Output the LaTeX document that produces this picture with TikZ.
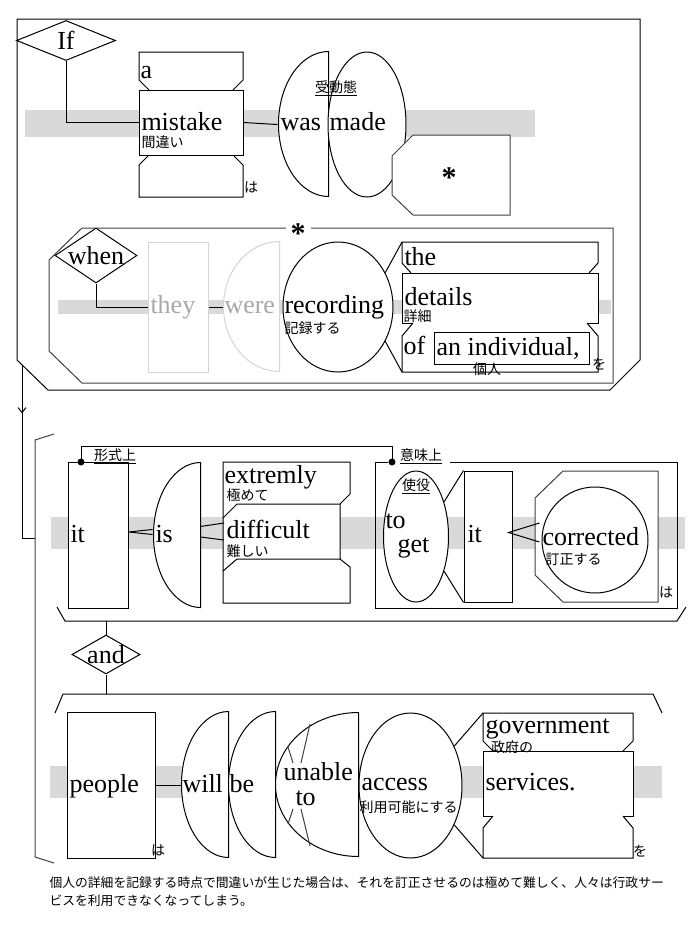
\documentclass[tikz,border=0pt]{standalone}
\usepackage{fontspec}
\setmainfont{Liberation Serif}
\newfontfamily\jpfont{Noto Sans CJK JP}
\usetikzlibrary{shapes.geometric,arrows.meta,calc,decorations.markings}
\definecolor{bandgray}{HTML}{D9D9D9}
\definecolor{ghostline}{HTML}{D4D4D4}
\definecolor{ghosttext}{HTML}{A8A8A8}
\definecolor{framegray}{HTML}{404040}

\begin{document}
\begin{tikzpicture}[x=1pt,y=-1pt,line width=1pt,>={Straight Barb[length=5pt,width=8pt]}]
  \tikzstyle{wd}=[inner sep=0,anchor=base west,font=\fontsize{26}{28}\selectfont]
  \tikzstyle{jp}=[inner sep=0,font=\jpfont\fontsize{14}{16}\selectfont]
  \tikzstyle{bx}=[draw,fill=white,inner sep=0]
  \tikzstyle{ov}=[draw,fill=white,ellipse,inner sep=0]
  \tikzstyle{hb}=[inner sep=0]
  \tikzstyle{dia}=[draw,fill=white,diamond,inner sep=0]
  \tikzstyle{dotmark}=[circle,fill,inner sep=0,minimum size=7pt]
  \tikzstyle{starmark}=[anchor=base,font=\fontsize{30}{30}\selectfont\bfseries]
  \useasboundingbox (0,0) rectangle (688,930);

  % frames and bands
  \draw (17,19) -- (640,19) -- (640,360) -- (610,390) -- (48,390) -- (17,360) -- cycle;
  \draw[framegray] (82,228) -- (613,228) -- (613,383) -- (82,383) -- (49,351) -- (49,260) -- cycle;
  \fill[bandgray] (25,110) rectangle (535,137);
  \fill[bandgray] (58,300) rectangle (611,314);
  \fill[bandgray] (51,517) rectangle (685,549);
  \fill[bandgray] (50,766) rectangle (662,798);

  % if clause
  \node[dia,minimum width=99pt,minimum height=40pt] (if) at (66,40.5) {};
  \node[wd,anchor=center] (if-t) at (if) {If};
  \draw[fill=white] (149,90) -- (139,80) -- (139,52) -- (243,52) -- (243,80) -- (233,90);
  \draw[fill=white] (149,155) -- (139,165) -- (139,197) -- (243,197) -- (243,165) -- (233,155);
  \node[bx,minimum width=104pt,minimum height=65pt] (mistake) at (191,122.5) {};
  \draw (if.south) |- (mistake.west);
  \node[wd] (a-t) at (140,78) {a};
  \node[wd] (mistake-t) at (141,130) {mistake};
  \node[jp,anchor=west] (mistake-j) at (141,142) {間違い};
  \node[jp] (ha1) at (251,187) {は};
  \node[hb,minimum width=50pt,minimum height=145pt] (was) at (303,124.5) {};
  \draw[fill=white] (was.north east) arc[start angle=90,end angle=270,x radius=50pt,y radius=72.5pt] -- cycle;
  \draw (mistake.east) -- (was.west);
  \node[wd] (was-t) at (280,130) {was};
  \node[ov,minimum width=78pt,minimum height=145pt] (made) at (367,124.5) {};
  \node[wd] (made-t) at (329,130) {made};
  \node[jp] (made-j) at (336,88) {\underline{受動態}};
  \draw[framegray,fill=white] (413,135) -- (510,135) -- (510,215) -- (413,215) -- (392,195) -- (392,156) -- cycle;
  \node[starmark] (star1) at (449,187) {*};

  % when clause
  \node[starmark,fill=white,inner xsep=5pt,inner ysep=0] (star2) at (298,243) {*};
  \node[dia,minimum width=82pt,minimum height=55pt] (when) at (96,255.5) {};
  \node[wd,anchor=center] (when-t) at (when) {when};
  \node[bx,draw=ghostline,minimum width=60pt,minimum height=130pt] (they) at (178,307) {};
  \draw (when.south) |- (they.west);
  \node[wd,text=ghosttext] (they-t) at (150,313) {they};
  \node[hb,minimum width=56pt,minimum height=130pt] (were) at (251,307) {};
  \draw[ghostline,fill=white] (were.north east) arc[start angle=90,end angle=270,x radius=56pt,y radius=65pt] -- cycle;
  \draw (they.east) -- (were.west);
  \node[wd,text=ghosttext] (were-t) at (224,313) {were};
  \node[ov,minimum width=110pt,minimum height=130pt] (recording) at (338,307) {};
  \node[wd] (recording-t) at (284,313) {recording};
  \node[jp,anchor=west] (recording-j) at (284,328) {記録する};
  \draw[fill=white] (411,273) -- (402,263) -- (402,242) -- (598,242) -- (598,263) -- (589,273);
  \node[bx,minimum width=196pt,minimum height=50pt] (details) at (500,298) {};
  \draw[fill=white] (413,323) -- (402,336) -- (402,372) -- (598,372) -- (598,336) -- (587,323);
  \node[bx,minimum width=155pt,minimum height=32pt] (indiv) at (511.5,348) {};
  \coordinate (the-nw) at (402,242);
  \coordinate (of-sw) at (402,372);
  \draw (recording.36) -- (the-nw) (recording.-36) -- (of-sw);
  \node[wd] (the-t) at (404,265) {the};
  \node[wd] (details-t) at (404,305) {details};
  \node[jp,anchor=west] (details-j) at (403,316) {詳細};
  \node[wd] (of-t) at (403,354) {of};
  \node[wd] (indiv-t) at (436,355) {an individual,};
  \node[jp] (indiv-j) at (487,369) {個人};
  \node[jp] (wo1) at (599,364) {を};

  % main clause
  \coordinate (ifc) at (22,365);
  \coordinate (mainc) at (35,538);
  \draw[postaction={decorate},decoration={markings,mark=at position 0.26 with {\arrow{>}}}] (ifc) |- (mainc);
  \draw[framegray] (54,434) -- (35,440) -- (35,857) -- (54,863);
  \draw (57,607) -- (65,621) -- (677,621) -- (686,607);
  \node[bx,minimum width=60pt,minimum height=146pt] (it1) at (98,535) {};
  \node[wd] (it1-t) at (70,542) {it};
  \node[dotmark] (d1) at (81,462) {};
  \node[dotmark] (d2) at (392,462) {};
  \draw (d1.center) -- ++(0,-16) -| (d2.center);
  \node[jp] (form) at (115,456) {\underline{形式上}};
  \node[jp] (sense) at (421,456) {\underline{意味上}};
  \node[hb,minimum width=47pt,minimum height=145pt] (is) at (176.5,535.5) {};
  \draw[fill=white] (is.north east) arc[start angle=90,end angle=270,x radius=47pt,y radius=72.5pt] -- cycle;
  \draw ($(it1.east)+(0,-3)$) -- ($(is.west)+(0,-6)$) ($(it1.east)+(0,-3)$) -- ($(is.west)+(0,-1)$);
  \node[wd] (is-t) at (155,542) {is};
  \draw[fill=white] (223,462) -- (350,462) -- (350,494) -- (340,504) -- (340,559) -- (350,567) -- (350,603) -- (223,603) -- cycle;
  \draw (223,518) -- (237,504) -- (340,504) (223,571) -- (237,559) -- (340,559);
  \coordinate (dw1) at (224,523);
  \coordinate (dw2) at (224,540);
  \draw ($(is.east)+(0,-9)$) -- (dw1) ($(is.east)+(0,1.5)$) -- (dw2);
  \node[wd] (extremly-t) at (224,483) {extremly};
  \node[jp,anchor=west] (extremly-j) at (226,495) {極めて};
  \node[wd] (difficult-t) at (226,538) {difficult};
  \node[jp,anchor=west] (difficult-j) at (226,551) {難しい};
  \draw (450,462) -- (677,462) -- (677,608) -- (375,608) -- (375,462) -- (d2);
  \node[ov,minimum width=65pt,minimum height=131pt] (toget) at (416,536.5) {};
  \node[jp] (toget-j) at (416,486) {\underline{使役}};
  \node[wd] (to-t) at (385,528) {to};
  \node[wd] (get-t) at (397,552) {get};
  \node[bx,minimum width=48pt,minimum height=131pt] (it2) at (488,536.5) {};
  \draw (toget.51) -- (it2.north west) (toget.-51) -- (it2.south west);
  \node[wd] (it2-t) at (467,542) {it};
  \draw[framegray,fill=white] (563,471) -- (658,471) -- (658,602) -- (563,602) -- (535,575) -- (535,498) -- cycle;
  \node[ov,minimum size=106pt] (corr) at (595,540) {};
  \draw ($(corr.west)+(-2,-17)$) -- ($(it2.east)+(-4,-4)$) -- ($(corr.west)+(-2,2)$);
  \node[wd] (corr-t) at (542,545) {corrected};
  \node[jp,anchor=west] (corr-j) at (545,559) {訂正する};
  \node[jp] (ha2) at (666,592) {は};

  \node[dia,minimum width=68pt,minimum height=39pt] (and) at (106,654.5) {};
  \node[wd,anchor=center] (and-t) at (and) {and};
  \coordinate (s1) at (106,621);
  \coordinate (s2) at (106,694);
  \draw (s1) -- (and.north) (and.south) -- (s2);
  \draw (55,713) -- (63,694) -- (653,694) -- (662,713);
  \node[bx,minimum width=88pt,minimum height=146pt] (people) at (111,785) {};
  \node[wd] (people-t) at (69,792) {people};
  \node[jp] (ha3) at (158,850) {は};
  \node[hb,minimum width=47pt,minimum height=146pt] (will) at (204.5,785) {};
  \draw[fill=white] (will.north east) arc[start angle=90,end angle=270,x radius=47pt,y radius=73pt] -- cycle;
  \draw (people.east) -- (will.west);
  \node[wd] (will-t) at (182,792) {will};
  \node[hb,minimum width=47pt,minimum height=146pt] (be) at (251.5,785) {};
  \draw[fill=white] (be.north east) arc[start angle=90,end angle=270,x radius=47pt,y radius=73pt] -- cycle;
  \node[wd] (be-t) at (229,792) {be};
  \node[hb,minimum width=83pt,minimum height=144pt] (unable) at (316.5,785) {};
  \draw[fill=white] (unable.north east) arc[start angle=90,end angle=270,x radius=83pt,y radius=72pt] -- cycle;
  \draw[framegray] (310,724) -- (301,763) (288,747) -- (293,763) (293,809) -- (288,824) (301,809) -- (310,846);
  \node[wd] (unable-t) at (283,780) {unable};
  \node[wd] (to2-t) at (295,805) {to};
  \node[ov,minimum width=103pt,minimum height=145pt] (access) at (410.5,785.5) {};
  \node[wd] (access-t) at (361,790) {access};
  \node[jp,anchor=west] (access-j) at (359,807) {利用可能にする};
  \draw[fill=white] (493,751) -- (483,741) -- (483,713) -- (633,713) -- (633,741) -- (623,751);
  \node[bx,minimum width=150pt,minimum height=65pt] (services) at (558,783.5) {};
  \draw[fill=white] (493,816) -- (483,828) -- (483,858) -- (633,858) -- (633,828) -- (623,816);
  \coordinate (gov-nw) at (483,713);
  \coordinate (low-sw) at (483,858);
  \draw (access.42) -- (gov-nw) (access.-42) -- (low-sw);
  \node[wd] (gov-t) at (485,733) {government};
  \node[jp] (gov-j) at (512,747) {政府の};
  \node[wd] (services-t) at (485,790) {services.};
  \node[jp] (wo2) at (640,851) {を};

  \node[inner sep=0,anchor=base west,align=left,font=\jpfont\fontsize{12.8}{18}\selectfont] (caption) at (49,905)
    {個人の詳細を記録する時点で間違いが生じた場合は、それを訂正させるのは極めて難しく、人々は行政サー\\ビスを利用できなくなってしまう。};
\end{tikzpicture}
\end{document}
